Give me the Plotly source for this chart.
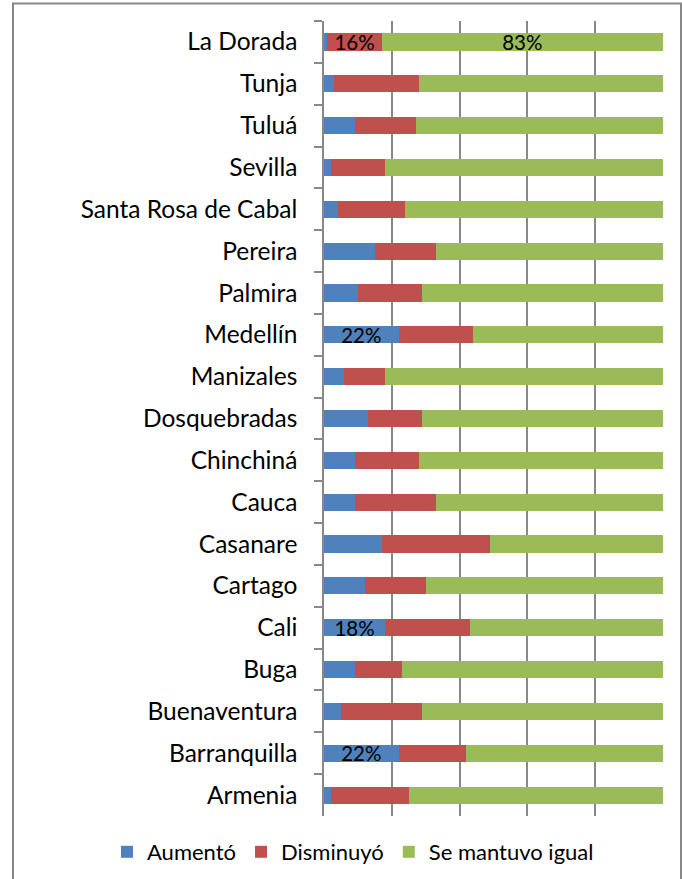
import plotly.graph_objects as go

categories = ["La Dorada", "Tunja", "Tuluá", "Sevilla", "Santa Rosa de Cabal", "Pereira",
              "Palmira", "Medellín", "Manizales", "Dosquebradas", "Chinchiná", "Cauca",
              "Casanare", "Cartago", "Cali", "Buga", "Buenaventura", "Barranquilla", "Armenia"]
aumento = [1, 3, 9, 2, 4, 15, 10, 22, 6, 13, 9, 9, 17, 12, 18, 9, 5, 22, 2]
disminuyo = [16, 25, 18, 16, 20, 18, 19, 22, 12, 16, 19, 24, 32, 18, 25, 14, 24, 20, 23]
igual = [83, 72, 73, 82, 76, 67, 71, 56, 82, 71, 72, 67, 51, 70, 57, 77, 71, 58, 75]

series_names = ["Aumentó", "Disminuyó", "Se mantuvo igual"]
series_colors = ["#4F81BD", "#C0504D", "#9BBB59"]
labeled = {
    "Aumentó": ["Medellín", "Cali", "Barranquilla"],
    "Disminuyó": ["La Dorada"],
    "Se mantuvo igual": ["La Dorada"],
}

W, H = 682, 879
ML, MT = 324, 21
MR = W - 663
MB = H - 816
pw, ph = W - ML - MR, H - MT - MB

def px_x(sx):
    return (sx - ML) / pw

def px_y(sy):
    return (H - MB - sy) / ph

FONT = "Lato, 'Open Sans', sans-serif"

fig = go.Figure()
for name, vals, col in zip(series_names, [aumento, disminuyo, igual], series_colors):
    text = [f"{v}%" if c in labeled[name] else "" for c, v in zip(categories, vals)]
    fig.add_trace(go.Bar(
        y=categories, x=vals, name=name, orientation="h",
        marker=dict(color=col, line=dict(width=0)),
        text=text, textposition="inside", insidetextanchor="middle",
        textangle=0, constraintext="none",
        textfont=dict(family=FONT, size=20.5, color="black"),
        hoverinfo="skip",
    ))

fig.update_layout(
    width=W, height=H,
    margin=dict(l=ML, r=MR, t=MT, b=MB, pad=0, autoexpand=False),
    barmode="stack", barnorm="percent", bargap=0.59,
    plot_bgcolor="white", paper_bgcolor="white",
    font=dict(family=FONT, size=24.5, color="black"),
    showlegend=True,
    legend=dict(orientation="h", xref="paper", yref="paper",
                x=px_x(107), y=px_y(852), xanchor="left", yanchor="middle",
                font=dict(family=FONT, size=22, color="black"), traceorder="normal",
                itemwidth=30, bgcolor="rgba(0,0,0,0)"),
    xaxis=dict(range=[0, 100], dtick=20, showticklabels=False, showgrid=True,
               gridcolor="#888888", gridwidth=1.6, zeroline=False, showline=False,
               fixedrange=True, automargin=False),
    yaxis=dict(type="category", categoryorder="array", categoryarray=categories,
               autorange="reversed", showline=True, linecolor="#888888", linewidth=1.5,
               ticks="outside", tickson="boundaries", ticklen=8, tickcolor="#888888",
               tickwidth=1.5, ticklabelstandoff=20, showgrid=False, automargin=False,
               tickfont=dict(family=FONT, size=24.5, color="black")),
    shapes=[dict(type="rect", xref="paper", yref="paper",
                 x0=px_x(13), x1=px_x(681), y0=px_y(890), y1=px_y(3.5),
                 line=dict(color="#888888", width=2), fillcolor="rgba(0,0,0,0)", layer="below")],
)

fig.write_html("out.html", config={"displayModeBar": False},
               post_script="document.body.style.margin='0';")
